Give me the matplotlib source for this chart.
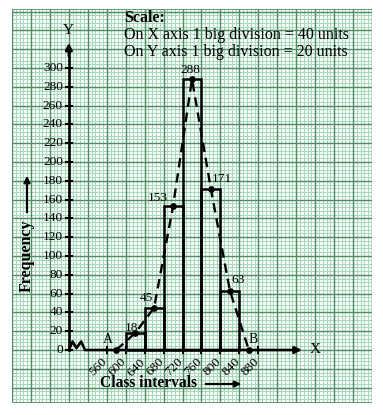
import numpy as np
import matplotlib
matplotlib.use("Agg")
import matplotlib.pyplot as plt

# ---- data ----
class_edges = [600, 640, 680, 720, 760, 800, 840]
frequencies = [18, 45, 153, 288, 171, 63]
poly_x = [580, 620, 660, 700, 740, 780, 820, 860]
poly_y = [0, 18, 45, 153, 288, 171, 63, 0]
x_ticks = [560, 600, 640, 680, 720, 760, 800, 840, 880]
y_ticks = list(range(0, 301, 20))
label_offsets = [(-4, 5), (-8, 10), (-15, 8), (-2, 9), (11, 10), (8, 11)]

W, H = 383, 415
fig = plt.figure(figsize=(W / 100, H / 100), dpi=100)
plt.rcParams['font.family'] = ['Liberation Serif', 'DejaVu Serif']

def fx(px):
    return px / W

def fy(py):
    return 1 - py / H

ax = fig.add_axes([fx(12), fy(403), (372 - 12) / W, (403 - 9) / H])
ax.set_axis_off()
xmin, xmax = 360, 1120
ymin, ymax = -56.4, 362.8
ax.set_xlim(xmin, xmax)
ax.set_ylim(ymin, ymax)

minor_c = '#a9d9bb'
major_c = '#4f8c63'
# graph paper
ax.vlines(np.arange(xmin, xmax + 1, 8), ymin, ymax, color=minor_c, lw=0.8, zorder=0)
ax.hlines(np.arange(-56, ymax, 4), xmin, xmax, color=minor_c, lw=0.8, zorder=0)
ax.vlines(np.arange(xmin, xmax + 1, 40), ymin, ymax, color=major_c, lw=1.0, zorder=0)
ax.hlines(np.arange(-40, ymax, 20), xmin, xmax, color=major_c, lw=1.0, zorder=0)
ax.hlines([ymin, ymax], xmin, xmax, color=major_c, lw=1.2, zorder=0)

# axes
ax.plot([480, 480], [0, 318], color='black', lw=1.9, zorder=3)
ax.annotate('', xy=(480, 330), xytext=(480, 310),
            arrowprops=dict(arrowstyle='-|>', color='black', lw=1.9, mutation_scale=10), zorder=3)
ax.plot([480, 488, 496, 506, 514, 960], [0, 9, 2, 9, 0, 0], color='black', lw=1.9, zorder=3)
ax.annotate('', xy=(978, 0), xytext=(950, 0),
            arrowprops=dict(arrowstyle='-|>', color='black', lw=1.9, mutation_scale=10), zorder=3)
ax.text(480, 340, 'Y', ha='center', va='center', fontsize=11)
ax.text(1000, 0, 'X', ha='center', va='center', fontsize=11)

# y ticks
for v in y_ticks:
    ax.plot([474, 486], [v, v], color='black', lw=1.5, zorder=3)
    ax.annotate(str(v), (480, v), xytext=(-6, 0), textcoords='offset pixels',
                ha='right', va='center', fontsize=9.6)
# x ticks
for v in x_ticks:
    ax.plot([v, v], [-3, 3], color='black', lw=1.5, zorder=3)
    ax.annotate(str(v), (v, 0), xytext=(3, -6), textcoords='offset pixels',
                ha='right', va='top', rotation=45, fontsize=9.6)

# histogram
ax.bar(class_edges[:-1], frequencies, width=np.diff(class_edges), align='edge',
       fill=False, edgecolor='black', linewidth=1.8, zorder=4)
# frequency polygon
ax.plot(poly_x, poly_y, color='black', lw=1.7, linestyle=(0, (4, 2.5)),
        marker='o', markersize=3.8, zorder=5)
for xv, yv, (dx, dy) in zip(poly_x[1:-1], poly_y[1:-1], label_offsets):
    ax.annotate(str(yv), (xv, yv), xytext=(dx, dy), textcoords='offset pixels',
                ha='center', va='center', fontsize=9.6)
ax.text(562, 11, 'A', ha='center', va='center', fontsize=10)
ax.text(870, 11, 'B', ha='center', va='center', fontsize=10)

# labels
fig.text(fx(148), fy(383), 'Class intervals', ha='center', va='center',
         fontsize=11.2, fontweight='bold')
fig.add_artist(matplotlib.patches.FancyArrowPatch((fx(203), fy(384)), (fx(244), fy(384)),
               transform=fig.transFigure, arrowstyle='-|>', mutation_scale=9,
               color='black', lw=1.6))
fig.text(fx(27), fy(256), 'Frequency', ha='center', va='center', rotation=90,
         fontsize=11.5, fontweight='bold')
fig.add_artist(matplotlib.patches.FancyArrowPatch((fx(27), fy(215)), (fx(27), fy(173)),
               transform=fig.transFigure, arrowstyle='-|>', mutation_scale=9,
               color='black', lw=1.6))

fig.text(fx(124), fy(18), 'Scale:', ha='left', va='center', fontsize=11.5, fontweight='bold')
fig.text(fx(124), fy(35), 'On X axis 1 big division = 40 units', ha='left', va='center', fontsize=11.5)
fig.text(fx(124), fy(52), 'On Y axis 1 big division = 20 units', ha='left', va='center', fontsize=11.5)

fig.savefig('out.png', dpi=100, facecolor='white')
